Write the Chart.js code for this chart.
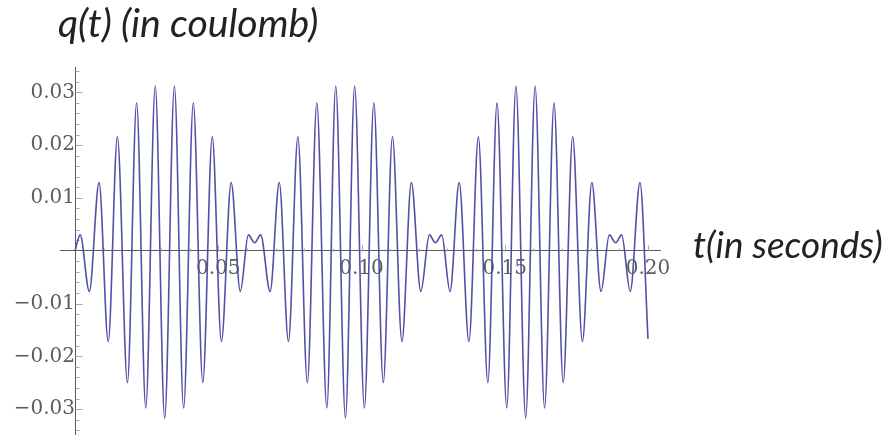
<!DOCTYPE html>
<html>
<head>
<meta charset="utf-8">
<title>q(t)</title>
<script src="https://cdn.jsdelivr.net/npm/chart.js@4.4.1/dist/chart.umd.min.js"></script>
<style>
  html, body { margin: 0; padding: 0; background: #fff; }
  #wadah { width: 889px; height: 435px; }
</style>
</head>
<body>
<div id="wadah"><canvas id="chartQ" width="889" height="435"></canvas></div>
<script>
// titik puncak & lembah (t dalam detik, q dalam coulomb)
const tBeat1 = [0, 0.0018, 0.0050, 0.0084, 0.0116, 0.0148, 0.0183, 0.0215, 0.0247, 0.0280,
  0.0313, 0.0347, 0.0379, 0.0413, 0.0446, 0.0479, 0.0511, 0.0545, 0.0577, 0.0605];
const qBeat1 = [0, 0.0030, -0.0077, 0.0129, -0.0172, 0.0216, -0.0250, 0.0280, -0.0298, 0.0312,
  -0.0317, 0.0312, -0.0298, 0.0280, -0.0250, 0.0216, -0.0172, 0.0129, -0.0077, 0.0030];

const tBeat2 = [0.0627, 0.0648, 0.0681, 0.0713, 0.0745, 0.0778, 0.0811, 0.0844, 0.0879, 0.0910,
  0.0944, 0.0976, 0.1010, 0.1043, 0.1076, 0.1108, 0.1141, 0.1174, 0.1207, 0.1237];
const qBeat2 = [0.0015, 0.0030, -0.0077, 0.0129, -0.0172, 0.0216, -0.0250, 0.0280, -0.0298, 0.0312,
  -0.0317, 0.0312, -0.0298, 0.0280, -0.0250, 0.0216, -0.0172, 0.0129, -0.0077, 0.0030];

const tBeat3 = [0.1258, 0.1280, 0.1309, 0.1341, 0.1375, 0.1408, 0.1441, 0.1473, 0.1507, 0.1539,
  0.1573, 0.1606, 0.1639, 0.1672, 0.1704, 0.1737, 0.1771, 0.1804, 0.1836, 0.1865];
const qBeat3 = [0.0015, 0.0030, -0.0077, 0.0129, -0.0172, 0.0216, -0.0250, 0.0280, -0.0298, 0.0312,
  -0.0317, 0.0312, -0.0298, 0.0280, -0.0250, 0.0216, -0.0172, 0.0129, -0.0077, 0.0030];

const tTail = [0.1887, 0.1908, 0.1938, 0.1972, 0.2000];
const qTail = [0.0015, 0.0030, -0.0077, 0.0129, -0.0167];

const xTicks = [0.05, 0.10, 0.15, 0.20];
const yTicks = [-0.03, -0.02, -0.01, 0.01, 0.02, 0.03];

const judulY = 'q(t) (in coulomb)';
const judulX = 't(in seconds)';

// gabung jadi titik {x, y}
const tAll = tBeat1.concat(tBeat2, tBeat3, tTail);
const qAll = qBeat1.concat(qBeat2, qBeat3, qTail);
const points = tAll.map((t, i) => ({ x: t, y: qAll[i] }));

function minusFmt(v, digits) {
  const s = Math.abs(v).toFixed(digits);
  return v < 0 ? '\u2212' + s : s;
}

// tick kecil ala Mathematica, nempel di sumbu
const tandaTick = {
  id: 'tandaTick',
  beforeDatasetsDraw(chart) {
    const { ctx, scales: { x, y } } = chart;
    const x0 = Math.round(x.getPixelForValue(0)) + 0.5;
    const y0 = Math.round(y.getPixelForValue(0)) + 0.5;
    ctx.save();
    ctx.strokeStyle = '#a8a8a8';
    ctx.lineWidth = 1;
    ctx.beginPath();
    for (let i = -17; i <= 17; i++) {
      const py = Math.round(y.getPixelForValue(i * 0.002)) + 0.5;
      const len = (i % 5 === 0) ? 7 : 4;
      if (i === 0) continue;
      ctx.moveTo(x0, py);
      ctx.lineTo(x0 + len, py);
    }
    for (let i = 1; i <= 20; i++) {
      const px = Math.round(x.getPixelForValue(i * 0.01)) + 0.5;
      const len = (i % 5 === 0) ? 6 : 3;
      ctx.moveTo(px, y0);
      ctx.lineTo(px, y0 - len);
    }
    ctx.stroke();
    ctx.restore();
  }
};

const tulisJudul = {
  id: 'tulisJudul',
  afterDraw(chart) {
    const ctx = chart.ctx;
    ctx.save();
    ctx.fillStyle = '#222';
    ctx.textBaseline = 'alphabetic';
    ctx.textAlign = 'left';
    const fit = (text, size, target) => {
      ctx.font = 'italic ' + size + 'px Lato';
      const w = ctx.measureText(text).width;
      const s = size * target / w;
      ctx.font = 'italic ' + s.toFixed(1) + 'px Lato';
    };
    fit(judulY, 28, 260);
    ctx.fillText(judulY, 58, 37);
    fit(judulX, 28, 190);
    ctx.fillText(judulX, 693, 258);
    ctx.restore();
  }
};

const tickFont = { family: 'DejaVu Serif', size: 20 };

const chartConfig = {
  type: 'line',
  data: {
    datasets: [{
      label: 'q(t)',
      data: points,
      borderColor: '#5050a6',
      borderWidth: 1.6,
      pointRadius: 0,
      fill: false,
      cubicInterpolationMode: 'monotone'
    }]
  },
  options: {
    responsive: false,
    animation: false,
    layout: { padding: { left: 60, right: 229, top: 67, bottom: 0 } },
    plugins: {
      legend: { display: false },
      title: { display: false },
      tooltip: { enabled: false }
    },
    scales: {
      x: {
        type: 'linear',
        position: { y: 0 },
        min: -0.00524,
        max: 0.20419,
        afterBuildTicks: (scale) => { scale.ticks = xTicks.map(v => ({ value: v })); },
        afterFit: (scale) => { scale.paddingLeft = 0; scale.paddingRight = 0; },
        grid: { display: true, drawOnChartArea: false, drawTicks: false },
        border: { display: true, color: '#5a5a5a', width: 1 },
        ticks: {
          color: '#5c5c5c',
          font: tickFont,
          padding: 6,
          maxRotation: 0,
          autoSkip: false,
          callback: (v) => minusFmt(v, 2)
        }
      },
      y: {
        type: 'linear',
        position: { x: 0 },
        min: -0.0349,
        max: 0.0348,
        afterBuildTicks: (scale) => { scale.ticks = yTicks.map(v => ({ value: v })); },
        afterFit: (scale) => { scale.paddingTop = 0; scale.paddingBottom = 0; },
        grid: { display: true, drawOnChartArea: false, drawTicks: false },
        border: { display: true, color: '#5a5a5a', width: 1 },
        ticks: {
          color: '#5c5c5c',
          font: tickFont,
          padding: 9,
          autoSkip: false,
          callback: (v) => minusFmt(v, 2)
        }
      }
    }
  },
  plugins: [tandaTick, tulisJudul]
};

const ctx = document.getElementById('chartQ');
const wadahChart = new Chart(ctx, chartConfig);
</script>
</body>
</html>
